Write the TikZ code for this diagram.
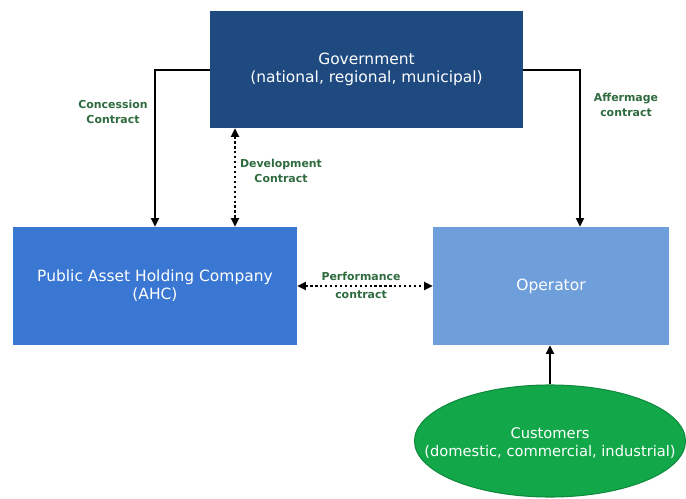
\documentclass[tikz,border=0pt]{standalone}
\usepackage{fontspec}
\setmainfont{DejaVu Sans}
\usetikzlibrary{shapes.geometric,arrows.meta}
\definecolor{govblue}{HTML}{1F4A80}
\definecolor{ahcblue}{HTML}{3A77D2}
\definecolor{opblue}{HTML}{6E9FDB}
\definecolor{custgreen}{HTML}{12A84A}
\definecolor{custedge}{HTML}{0E8A3C}
\definecolor{labgreen}{HTML}{2F6B3F}
\tikzset{
  box/.style={draw=none, text=white, align=center, inner sep=0pt, font=\fontsize{11.6}{13.5}\selectfont},
  lab/.style={text=labgreen, align=center, font=\bfseries\fontsize{8.2}{11}\selectfont, inner sep=0pt},
  conn/.style={line width=1.4pt, -{Triangle[length=6.5pt,width=6pt]}},
  dconn/.style={line width=1.7pt, dotted, {Triangle[length=6.5pt,width=6pt]}-{Triangle[length=6.5pt,width=6pt]}}
}
\begin{document}
\begin{tikzpicture}[x=0.75pt,y=-0.75pt]
\useasboundingbox (0,0) rectangle (686,499);
\fill[white] (0,0) rectangle (686,499);
\node[box, fill=govblue, minimum width=313*0.75pt, minimum height=117*0.75pt] (gov) at (366.5,69.5) {Government\\(national, regional, municipal)};
\node[box, fill=ahcblue, minimum width=284*0.75pt, minimum height=118*0.75pt] (ahc) at (155,286) {Public Asset Holding Company\\(AHC)};
\node[box, fill=opblue, minimum width=236*0.75pt, minimum height=118*0.75pt] (op) at (551,286) {Operator};
\node[ellipse, fill=custgreen, draw=custedge, line width=0.8pt, inner sep=0pt, minimum width=271*0.75pt, minimum height=112*0.75pt] (cust) at (550,441) {};
\node[text=white, align=center, inner sep=0pt, font=\fontsize{11}{14}\selectfont, yshift=-1.5pt] (custtext) at (cust.center) {Customers\\(domestic, commercial, industrial)};
\coordinate (gl) at (gov.west |- 0,70);
\coordinate (gr) at (gov.east |- 0,70);
\draw[conn] (gl) -| (ahc.north -| 155,0);
\draw[conn] (gr) -| (op.north -| 580,0);
\draw[dconn] (gov.south -| 235,0) -- (ahc.north -| 235,0);
\draw[dconn] (ahc.east |- 0,286) -- (op.west |- 0,286);
\draw[conn] (cust.north -| 550,0) -- (op.south -| 550,0);
\node[lab] (lconc) at (113,112) {Concession\\Contract};
\node[lab] (ldev) at (281,171) {Development\\Contract};
\node[lab] (laff) at (626,105) {Affermage\\contract};
\node[lab] (lperf) at (361,285) {Performance\\[2.5pt]contract};
\end{tikzpicture}
\end{document}
